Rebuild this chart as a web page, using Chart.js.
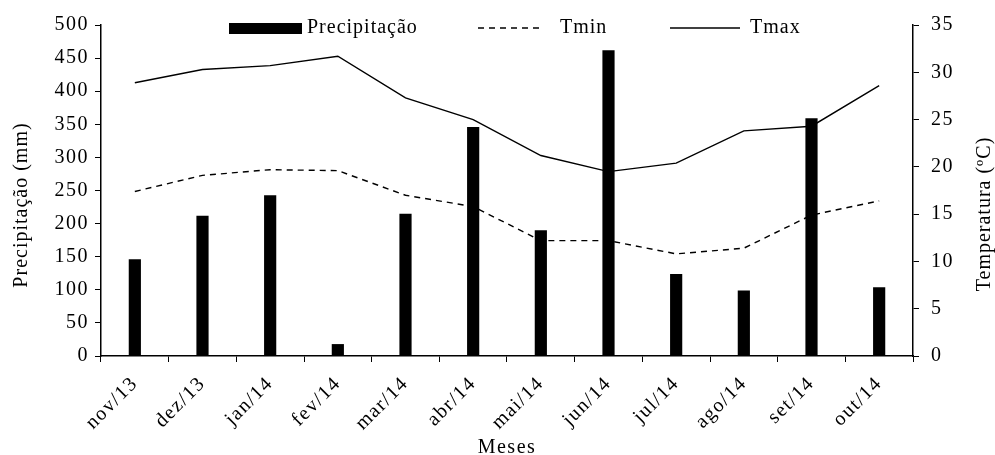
<!DOCTYPE html>
<html>
<head>
<meta charset="utf-8">
<script src="https://cdn.jsdelivr.net/npm/chart.js@4"></script>
<style>
  html, body { margin: 0; padding: 0; background: #fff; }
  #wrap { width: 995px; height: 455px; position: relative; }
</style>
</head>
<body>
<div id="wrap"><canvas id="grafico"></canvas></div>
<script>
// dados
const meses = ['nov/13', 'dez/13', 'jan/14', 'fev/14', 'mar/14', 'abr/14',
               'mai/14', 'jun/14', 'jul/14', 'ago/14', 'set/14', 'out/14'];
const precipitacao = [146, 212, 243, 18, 215, 346, 190, 462, 124, 99, 359, 104];
const tmin = [17.4, 19.1, 19.7, 19.6, 17.0, 15.8, 12.2, 12.2, 10.8, 11.4, 14.9, 16.4];
const tmax = [28.9, 30.3, 30.7, 31.7, 27.3, 25.0, 21.2, 19.5, 20.4, 23.8, 24.3, 28.6];

const fonte = '"Liberation Serif", "Times New Roman", serif';
const tituloEsq = 'Precipitação (mm)';
const tituloDir = 'Temperatura (ºC)';

// espaçamento das letras (o original parece esticado na horizontal)
const espacamento = {
    id: 'espacamento',
    beforeUpdate(chart) { chart.ctx.letterSpacing = '1.5px'; },
    beforeDraw(chart) { chart.ctx.letterSpacing = '1.5px'; }
};

// legenda e titulos dos eixos y desenhados a mao
const legendaTopo = {
    id: 'legendaTopo',
    afterDraw(chart) {
        const c = chart.ctx;
        const y = 28;
        const ds = chart.data.datasets;
        c.save();
        c.letterSpacing = '1px';
        c.font = '20px ' + fonte;
        c.fillStyle = '#000';
        c.textBaseline = 'middle';

        // Precipitação
        c.fillRect(229, y - 5, 73, 11);
        c.fillText(ds[0].label, 307, y);

        // Tmin
        c.strokeStyle = '#000';
        c.lineWidth = 1.5;
        c.setLineDash([6, 5]);
        c.beginPath();
        c.moveTo(478, y);
        c.lineTo(544, y);
        c.stroke();
        c.fillText(ds[1].label, 560, y);

        // Tmax
        c.setLineDash([]);
        c.beginPath();
        c.moveTo(670, y);
        c.lineTo(740, y);
        c.stroke();
        c.fillText(ds[2].label, 750, y);

        // titulos dos eixos, ambos lidos de baixo para cima
        c.textAlign = 'center';
        c.save();
        c.translate(22, 205);
        c.rotate(-Math.PI / 2);
        c.fillText(tituloEsq, 0, 0);
        c.restore();
        c.save();
        c.translate(985, 214);
        c.rotate(-Math.PI / 2);
        c.fillText(tituloDir, 0, 0);
        c.restore();
        c.restore();
    }
};

const grafico = new Chart(document.getElementById('grafico'), {
    type: 'bar',
    data: {
        labels: meses,
        datasets: [{
            type: 'bar',
            label: 'Precipitação',
            data: precipitacao,
            backgroundColor: '#000',
            barPercentage: 0.18,
            categoryPercentage: 1,
            yAxisID: 'y',
            order: 2
        }, {
            type: 'line',
            label: 'Tmin',
            data: tmin,
            borderColor: '#000',
            borderWidth: 1.4,
            borderDash: [6, 5],
            pointRadius: 0,
            fill: false,
            tension: 0,
            yAxisID: 'y1',
            order: 1
        }, {
            type: 'line',
            label: 'Tmax',
            data: tmax,
            borderColor: '#000',
            borderWidth: 1.4,
            pointRadius: 0,
            fill: false,
            tension: 0,
            yAxisID: 'y1',
            order: 1
        }]
    },
    options: {
        responsive: true,
        maintainAspectRatio: false,
        animation: false,
        layout: { padding: { top: 25, left: 0, right: 0, bottom: 0 } },
        plugins: {
            legend: { display: false },
            tooltip: { enabled: false }
        },
        scales: {
            x: {
                offset: true,
                afterFit(s) { s.height = 99; },
                grid: { display: true, drawOnChartArea: false, drawTicks: true, tickLength: 6, color: '#000', offset: true },
                border: { display: true, color: '#000', width: 1.5 },
                ticks: {
                    color: '#000',
                    font: { family: fonte, size: 20 },
                    maxRotation: 45,
                    minRotation: 45,
                    padding: 10
                },
                title: {
                    display: true,
                    text: 'Meses',
                    color: '#000',
                    font: { family: fonte, size: 20 },
                    padding: { top: 0, bottom: -5 }
                }
            },
            y: {
                position: 'left',
                min: 0,
                max: 500,
                afterFit(s) { s.width = 101; },
                ticks: {
                    stepSize: 50,
                    color: '#000',
                    font: { family: fonte, size: 20 },
                    padding: 6
                },
                grid: { drawOnChartArea: false, drawTicks: true, tickLength: 6, color: '#000' },
                border: { display: true, color: '#000', width: 1.5 }
            },
            y1: {
                position: 'right',
                min: 0,
                max: 35,
                afterFit(s) { s.width = 82; },
                ticks: {
                    stepSize: 5,
                    color: '#000',
                    font: { family: fonte, size: 20 },
                    padding: 12
                },
                grid: { drawOnChartArea: false, drawTicks: true, tickLength: 6, color: '#000' },
                border: { display: true, color: '#000', width: 1.5 }
            }
        }
    },
    plugins: [espacamento, legendaTopo]
});
</script>
</body>
</html>
